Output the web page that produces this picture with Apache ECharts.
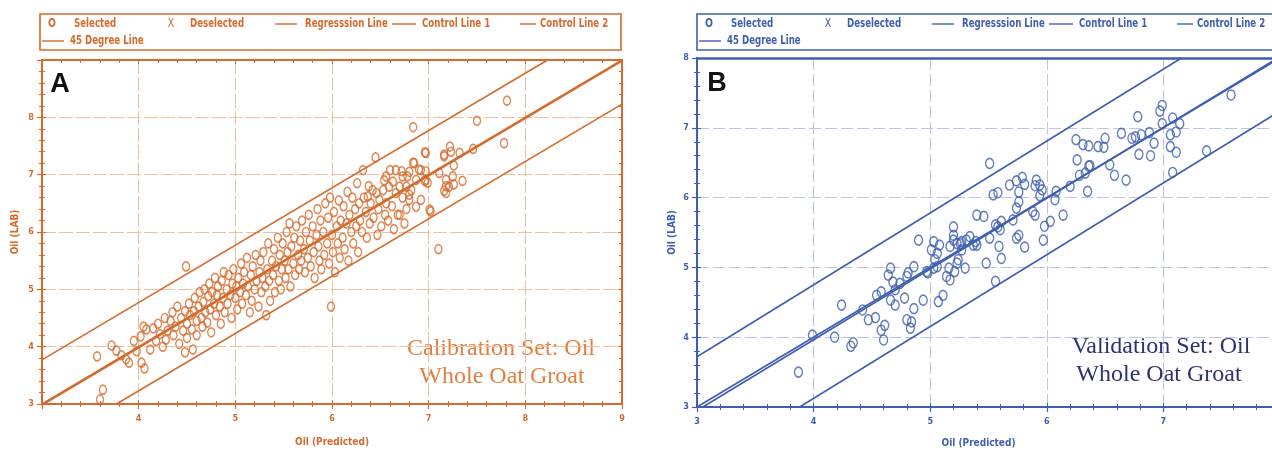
<!DOCTYPE html>
<html><head><meta charset="utf-8">
<script src="https://cdn.jsdelivr.net/npm/echarts@6/dist/echarts.min.js"></script>
<style>html,body{margin:0;padding:0;background:#fff}#c{width:1272px;height:451px}</style>
</head><body><div id="c"></div>
<script>
// ---------- data ----------
const legendNames = ['Selected','Deselected','Regresssion Line','Control Line 1','Control Line 2','45 Degree Line'];
const xRangeA = [3, 9], yRangeA = [3, 9];
const xRangeB = [3, 8], yRangeB = [3, 8];
const selectedA = [
[3.57,3.83],[3.63,3.25],[3.60,3.08],
[3.72,4.02],[3.77,3.93],[3.82,3.85],[3.87,3.78],[3.90,3.72],
[3.95,4.10],[3.98,3.92],[4.02,4.18],[4.03,3.72],[4.06,3.62],[4.08,4.30],[4.05,4.35],
[4.12,3.95],[4.15,4.32],[4.18,4.10],[4.20,4.40],[4.22,4.22],[4.25,4.00],[4.27,4.50],[4.30,4.28],[4.28,4.12],
[4.33,4.45],[4.35,4.60],[4.36,4.20],[4.38,4.35],[4.40,4.70],[4.42,4.05],[4.44,4.50],[4.46,4.28],[4.48,3.90],[4.48,4.62],[4.49,5.40],[4.50,4.15],[4.50,4.40],
[4.52,4.75],[4.53,4.55],[4.55,4.30],[4.56,3.95],[4.57,4.62],[4.58,4.85],[4.60,4.45],[4.60,4.20],[4.62,4.70],[4.63,4.95],[4.65,4.50],[4.66,4.35],[4.67,4.78],[4.68,5.00],[4.69,4.60],
[4.71,4.42],[4.72,4.88],[4.73,5.10],[4.74,4.65],[4.75,4.25],[4.76,4.95],[4.78,4.75],[4.79,5.20],[4.80,4.55],[4.81,4.90],[4.82,5.05],[4.84,4.70],[4.85,4.40],[4.86,5.15],[4.87,4.85],[4.88,5.30],[4.89,4.60],
[4.91,5.00],[4.92,4.75],[4.93,5.25],[4.95,4.90],[4.96,4.50],[4.97,5.10],[4.98,5.35],[5.00,4.85],[5.01,5.05],[5.02,4.65],[5.03,5.20],[5.05,4.95],[5.06,5.45],[5.07,4.75],[5.08,5.10],[5.09,5.30],
[5.11,4.90],[5.12,5.55],[5.13,5.05],[5.15,4.60],[5.16,5.25],[5.17,4.80],[5.18,5.40],[5.20,5.00],[5.21,5.60],[5.22,5.15],[5.24,4.70],[5.25,5.30],[5.26,5.50],[5.27,4.95],[5.28,5.20],[5.29,5.65],
[5.31,5.05],[5.32,4.55],[5.33,5.35],[5.34,5.80],[5.35,5.15],[5.36,4.80],[5.38,5.50],[5.39,5.25],[5.40,5.70],[5.41,4.95],[5.42,5.40],[5.44,5.90],[5.45,5.15],[5.46,5.60],[5.47,5.00],[5.48,5.35],[5.49,5.80],
[5.51,5.50],[5.52,5.20],[5.53,6.00],[5.54,5.65],[5.55,5.35],[5.56,6.15],[5.57,5.05],[5.58,5.75],[5.60,5.45],[5.61,5.90],[5.62,5.25],[5.63,6.10],[5.65,5.60],[5.66,5.35],[5.67,5.85],[5.68,5.50],[5.69,6.20],
[5.71,5.70],[5.72,5.30],[5.73,6.00],[5.75,5.55],[5.76,6.30],[5.77,5.85],[5.78,5.40],[5.80,6.10],[5.81,5.65],[5.82,5.20],[5.84,5.95],[5.85,6.40],[5.86,5.75],[5.87,5.50],[5.88,6.20],[5.89,5.35],
[5.91,6.00],[5.92,5.60],[5.93,6.50],[5.95,5.80],[5.96,6.25],[5.97,5.45],[5.98,6.60],[5.99,4.70],[6.00,5.95],[6.01,5.65],[6.02,6.35],[6.03,5.30],[6.05,6.10],[6.06,5.80],[6.07,6.55],[6.08,5.55],[6.09,6.20],
[6.11,5.90],[6.12,6.45],[6.13,5.70],[6.15,6.15],[6.16,6.70],[6.17,5.50],[6.18,6.30],[6.20,6.00],[6.21,6.60],[6.22,5.80],[6.24,6.40],[6.25,6.10],[6.26,6.85],[6.27,5.65],[6.28,6.50],[6.29,6.20],
[6.31,6.00],[6.32,7.08],[6.33,6.60],[6.35,6.35],[6.36,5.90],[6.37,6.62],[6.38,6.80],[6.39,6.15],[6.40,6.50],[6.42,6.73],[6.43,6.25],[6.45,7.30],[6.46,6.68],[6.47,5.95],[6.48,6.40],[6.49,6.56],
[6.51,6.10],[6.53,6.73],[6.54,6.90],[6.55,6.30],[6.56,6.97],[6.56,6.50],[6.58,6.20],[6.59,6.79],[6.60,7.08],[6.62,6.45],[6.63,6.88],[6.64,6.05],[6.66,6.68],[6.66,7.08],[6.68,6.30],[6.70,6.79],[6.70,6.30],
[6.72,7.06],[6.73,6.97],[6.73,6.60],[6.75,6.15],[6.77,6.79],[6.77,6.40],[6.78,6.97],[6.80,7.05],[6.80,6.56],[6.80,6.65],[6.82,6.73],[6.84,7.21],[6.84,7.83],[6.85,7.20],[6.87,6.91],[6.87,6.44],[6.90,7.09],
[6.92,7.08],[6.92,6.56],[6.96,7.39],[6.96,6.89],[6.97,6.91],[6.97,7.38],[6.97,7.06],[6.99,6.86],[7.01,6.39],[7.02,6.36],[7.10,5.70],
[7.11,7.03],[7.16,7.32],[7.16,6.72],[7.16,7.35],[7.18,6.91],[7.18,6.68],[7.18,6.80],[7.21,6.79],[7.22,7.49],[7.23,7.40],[7.25,6.97],[7.26,7.16],[7.26,6.83],[7.32,7.38],[7.35,6.89],[7.46,7.45],[7.50,7.94],[7.78,7.55],[7.81,8.29]
];
const selectedB = [
[3.87,3.50],[3.99,4.03],[4.18,4.00],[4.24,4.46],[4.32,3.87],[4.34,3.92],[4.42,4.39],[4.47,4.25],[4.53,4.28],[4.54,4.60],
[4.58,4.65],[4.58,4.10],[4.60,3.96],[4.61,4.17],[4.64,4.89],[4.66,4.99],[4.68,4.79],[4.70,4.68],[4.66,4.53],[4.70,4.46],
[4.74,4.77],[4.78,4.56],[4.80,4.87],[4.81,4.92],[4.83,4.13],[4.84,4.22],[4.80,4.25],[4.86,4.41],[4.86,5.01],[4.90,5.39],[4.94,4.53],
[4.97,4.94],[4.98,4.92],[5.01,5.25],[5.03,5.37],[5.03,4.99],[5.04,5.11],[5.06,5.20],[5.06,5.01],[5.07,4.51],[5.08,5.32],
[5.11,4.60],[5.14,4.87],[5.16,4.99],[5.17,4.82],[5.17,5.30],[5.20,5.58],[5.20,5.46],[5.20,5.39],[5.21,4.94],[5.23,5.34],
[5.23,5.06],[5.24,5.11],[5.26,5.34],[5.27,5.25],[5.27,5.37],[5.30,4.99],[5.31,5.39],[5.34,5.44],[5.37,5.32],[5.39,5.37],
[5.40,5.32],[5.40,5.75],[5.46,5.73],[5.48,5.06],[5.51,6.49],[5.51,5.42],[5.54,6.04],[5.56,4.80],[5.56,5.61],[5.58,6.07],
[5.58,5.58],[5.59,5.30],[5.60,5.54],[5.61,5.66],[5.61,5.13],[5.68,6.18],[5.71,5.68],[5.74,6.24],[5.74,5.85],[5.74,5.42],
[5.76,5.94],[5.76,6.08],[5.76,5.46],[5.79,6.29],[5.81,6.19],[5.81,5.29],[5.88,5.80],[5.90,5.75],[5.90,6.17],[5.91,6.25],
[5.94,6.18],[5.96,6.11],[5.94,6.03],[5.97,5.39],[5.98,5.59],[6.03,5.66],[6.07,5.97],[6.08,6.09],[6.14,5.75],[6.20,6.16],
[6.26,6.54],[6.28,6.32],[6.33,6.35],[6.35,6.09],[6.36,6.45],[6.25,6.83],
[6.31,6.76],[6.36,6.74],[6.37,6.46],[6.44,6.73],[6.49,6.72],[6.50,6.85],[6.54,6.47],[6.58,6.32],[6.64,6.92],[6.68,6.25],
[6.73,6.85],[6.76,6.87],[6.78,7.16],[6.79,6.62],[6.81,6.90],[6.88,6.93],[6.89,6.60],[6.92,6.78],[6.97,7.24],[6.99,7.32],
[6.99,7.06],[7.06,6.90],[7.06,6.73],[7.08,7.14],[7.08,6.36],[7.11,6.94],[7.11,6.65],[7.14,7.06],[7.37,6.67],[7.58,7.47]
];
const deselectedA = [], deselectedB = [];
const regressionA = [[3.02,3],[9,8.98]];
const control1A = [[3,3.77],[8.23,9]];
const control2A = [[3.77,3],[9,8.23]];
const degree45A = [[3,3],[9,9]];
const regressionB = [[3.05,3],[7.98,8]];
const control1B = [[3,3.72],[7.155,8]];
const control2B = [[3.88,3],[8,7.24]];
const degree45B = [[3,3],[8,8]];

// ---------- style ----------
const ORANGE = '#d56a2c', ORANGE_GRID = '#eebf9f', ORANGE_TXT = '#e27f3e';
const BLUE = '#3f5fae', BLUE_GRID = '#b9c6e6', NAVY = '#2c3272';
const NARROW = "'Liberation Sans Narrow','DejaVu Sans Condensed',sans-serif";

function axisBase(gi, range, color, opts) {
  const base = {
    gridIndex: gi, type: 'value', min: range[0], max: range[1], interval: 1,
    axisLine: {show: true, onZero: false, lineStyle: {color, width: 2}},
    minorTick: {show: true, splitNumber: 5, length: 3, lineStyle: {color, width: 1}},
    axisTick: {show: true, length: 5, lineStyle: {color, width: 1.2}},
    splitLine: {show: false}, axisLabel: {show: false}
  };
  return Object.assign(base, opts);
}
const labelStyle = (c) => ({show: true, color: c, fontSize: 9, fontWeight: 'bold', fontFamily: NARROW});
const nameStyle = (c) => ({color: c, fontSize: 10, fontWeight: 'bold', fontFamily: NARROW});
const innerTicks = (c, len) => ({axisLine: {show: false}, axisTick: {show: true, inside: true, length: len, lineStyle: {color: c}}, minorTick: {show: true, splitNumber: 5, length: len - 1, lineStyle: {color: c}}});

const xAxes = [
  axisBase(0, xRangeA, ORANGE, {position: 'bottom', axisLabel: Object.assign(labelStyle(ORANGE), {margin: 10, showMinLabel: false}),
    splitLine: {show: true, lineStyle: {color: ORANGE_GRID, width: 1, type: [14, 3]}},
    name: 'Oil (Predicted)', nameLocation: 'middle', nameGap: 33, nameTextStyle: nameStyle(ORANGE)}),
  axisBase(0, xRangeA, ORANGE, Object.assign(innerTicks(ORANGE, 4), {position: 'top', axisLine: {show: true, lineStyle: {color: ORANGE, width: 2}}})),
  axisBase(0, xRangeA, ORANGE, Object.assign(innerTicks(ORANGE, 4), {position: 'bottom'})),
  axisBase(1, xRangeB, BLUE, {position: 'bottom', axisLabel: Object.assign(labelStyle(BLUE), {margin: 10, showMaxLabel: false}),
    splitLine: {show: true, lineStyle: {color: BLUE_GRID, width: 1, type: [12, 4]}},
    name: 'Oil (Predicted)', nameLocation: 'middle', nameGap: 31, nameTextStyle: Object.assign(nameStyle(BLUE), {padding: [0, 20, 0, 0]})}),
  axisBase(1, xRangeB, BLUE, {position: 'top', axisLine: {show: true, lineStyle: {color: BLUE, width: 2.5}}, axisTick: {show: false}, minorTick: {show: false}}),
  axisBase(1, xRangeB, BLUE, Object.assign(innerTicks(BLUE, 4), {position: 'bottom'}))
];
const yAxes = [
  axisBase(0, yRangeA, ORANGE, {position: 'left', axisLabel: Object.assign(labelStyle(ORANGE), {margin: 8, showMaxLabel: false}),
    splitLine: {show: true, lineStyle: {color: ORANGE_GRID, width: 1, type: [14, 3]}},
    name: 'Oil (LAB)', nameLocation: 'middle', nameGap: 22, nameTextStyle: nameStyle(ORANGE)}),
  axisBase(0, yRangeA, ORANGE, Object.assign(innerTicks(ORANGE, 4), {position: 'right', axisLine: {show: true, lineStyle: {color: ORANGE, width: 2}}})),
  axisBase(0, yRangeA, ORANGE, Object.assign(innerTicks(ORANGE, 4), {position: 'left'})),
  axisBase(1, yRangeB, BLUE, {position: 'left', axisLabel: Object.assign(labelStyle(BLUE), {margin: 8}),
    splitLine: {show: true, lineStyle: {color: BLUE_GRID, width: 1, type: [12, 4]}},
    name: 'Oil (LAB)', nameLocation: 'middle', nameGap: 20, nameTextStyle: nameStyle(BLUE)}),
  axisBase(1, yRangeB, BLUE, Object.assign(innerTicks(BLUE, 4), {position: 'left'}))
];

function lineSeries(name, data, xi, yi, color) {
  return {name, type: 'line', xAxisIndex: xi, yAxisIndex: yi, data, symbol: 'none', silent: true,
    lineStyle: {color, width: 1.6}, clip: true, z: 2, animation: false};
}
function scatterSeries(name, data, xi, yi, color, size) {
  return {name, type: 'scatter', xAxisIndex: xi, yAxisIndex: yi, data, symbol: 'circle', symbolSize: size,
    itemStyle: {color: 'rgba(0,0,0,0)', borderColor: color, borderWidth: 1.5}, z: 3, animation: false};
}

const series = [
  lineSeries(legendNames[5], degree45A, 0, 0, ORANGE),
  lineSeries(legendNames[2], regressionA, 0, 0, ORANGE),
  lineSeries(legendNames[3], control1A, 0, 0, ORANGE),
  lineSeries(legendNames[4], control2A, 0, 0, ORANGE),
  scatterSeries(legendNames[0], selectedA, 0, 0, ORANGE, [7, 9]),
  scatterSeries(legendNames[1], deselectedA, 0, 0, ORANGE, 8),
  lineSeries(legendNames[5], degree45B, 3, 3, BLUE),
  lineSeries(legendNames[2], regressionB, 3, 3, BLUE),
  lineSeries(legendNames[3], control1B, 3, 3, BLUE),
  lineSeries(legendNames[4], control2B, 3, 3, BLUE),
  scatterSeries(legendNames[0], selectedB, 3, 3, BLUE, [8, 10]),
  scatterSeries(legendNames[1], deselectedB, 3, 3, BLUE, 8)
];

// legend drawn as graphic (layout only)
function legendGraphic(dx, color, boxW) {
  const els = [];
  els.push({type: 'rect', shape: {x: 40 + dx, y: 14, width: boxW, height: 36}, style: {fill: 'none', stroke: color, lineWidth: 1.6}});
  const ts = (x, y, t, extra) => ({type: 'text', x: x + dx, y, scaleX: 0.8,
    style: Object.assign({text: t, fill: color, font: "bold 12px " + NARROW, textVerticalAlign: 'middle'}, extra || {})});
  const ln = (x1, x2, y) => ({type: 'line', shape: {x1: x1 + dx, y1: y, x2: x2 + dx, y2: y}, style: {stroke: color, lineWidth: 1.4}});
  const r1 = 24, r2 = 41;
  els.push(ts(52, r1, 'O', {textAlign: 'center', font: "bold 13px " + NARROW}));
  els.push(ts(74, r1, legendNames[0]));
  els.push(ts(171, r1, 'X', {textAlign: 'center', font: "13px " + NARROW}));
  els.push(ts(190, r1, legendNames[1]));
  els.push(ln(275, 297, r1)); els.push(ts(305, r1, legendNames[2]));
  els.push(ln(392, 416, r1)); els.push(ts(422, r1, legendNames[3]));
  els.push(ln(520, 536, r1)); els.push(ts(540, r1, legendNames[4]));
  els.push(ln(42, 64, r2)); els.push(ts(70, r2, legendNames[5]));
  return els;
}

const graphic = [].concat(
  legendGraphic(0, ORANGE, 581),
  legendGraphic(657, BLUE, 600),
  [
    {type: 'text', x: 60, y: 85, style: {text: 'A', fill: '#111', font: "bold 27px 'Liberation Sans',Arial,sans-serif", textAlign: 'center', textVerticalAlign: 'middle'}},
    {type: 'text', x: 717, y: 84, style: {text: 'B', fill: '#111', font: "bold 27px 'Liberation Sans',Arial,sans-serif", textAlign: 'center', textVerticalAlign: 'middle'}},
    {type: 'text', x: 501, y: 349, style: {text: 'Calibration Set: Oil', fill: ORANGE_TXT, font: "24px 'Liberation Serif','Times New Roman',serif", textAlign: 'center', textVerticalAlign: 'middle'}},
    {type: 'text', x: 502, y: 377, style: {text: 'Whole Oat Groat', fill: ORANGE_TXT, font: "24px 'Liberation Serif','Times New Roman',serif", textAlign: 'center', textVerticalAlign: 'middle'}},
    {type: 'text', x: 1161, y: 347, style: {text: 'Validation Set: Oil', fill: NAVY, font: "24px 'Liberation Serif','Times New Roman',serif", textAlign: 'center', textVerticalAlign: 'middle'}},
    {type: 'text', x: 1159, y: 375, style: {text: 'Whole Oat Groat', fill: NAVY, font: "24px 'Liberation Serif','Times New Roman',serif", textAlign: 'center', textVerticalAlign: 'middle'}}
  ]
);

const chart = echarts.init(document.getElementById('c'), null, {renderer: 'canvas'});
chart.setOption({
  backgroundColor: '#fff',
  animation: false,
  grid: [
    {left: 42, top: 60, width: 580, height: 344, containLabel: false, outerBoundsMode: 'none'},
    {left: 697, top: 58, width: 583, height: 349, containLabel: false, outerBoundsMode: 'none'}
  ],
  xAxis: xAxes,
  yAxis: yAxes,
  series,
  graphic
});
</script></body></html>
